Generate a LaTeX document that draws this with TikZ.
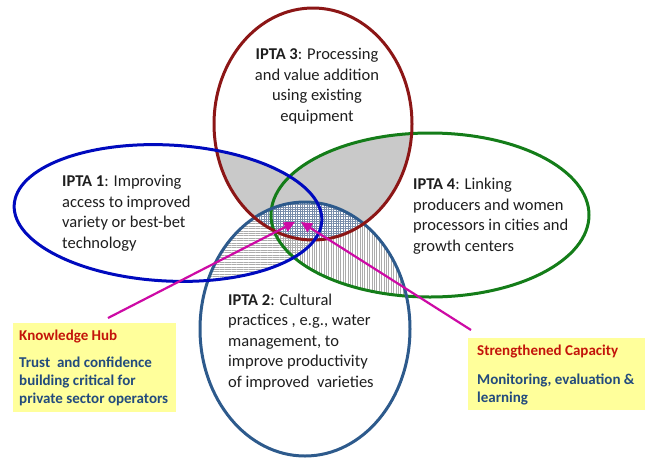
\documentclass[tikz,border=0pt]{standalone}
\usepackage{fontspec}
\setmainfont{Carlito}
\usetikzlibrary{arrows.meta,patterns.meta}

\definecolor{iptared}{RGB}{140,22,22}
\definecolor{iptablue}{RGB}{0,10,190}
\definecolor{iptagreen}{RGB}{20,125,25}
\definecolor{iptasteel}{RGB}{45,90,140}
\definecolor{linkmag}{RGB}{205,10,165}
\definecolor{notefill}{RGB}{255,255,155}
\definecolor{notered}{RGB}{195,20,10}
\definecolor{noteblue}{RGB}{35,75,125}
\definecolor{bodytext}{RGB}{30,30,30}
\definecolor{gridtint}{RGB}{120,140,170}

% the four outcome areas
\def\redE{(313,124) ellipse [x radius=99, y radius=116]}
\def\blueE{(168,213) ellipse [x radius=154, y radius=68]}
\def\greenE{(430,215) ellipse [x radius=159, y radius=82]}
\def\steelE{(305,329) ellipse [x radius=105, y radius=127]}
\tikzset{
  bluerot/.style={rotate around={-3:(168,213)}},
  ring/.style={line width=3pt},
  ipta/.style={inner sep=0pt, text=bodytext, font=\fontsize{16.5}{20.5}\selectfont},
  notebox/.style={fill=notefill, inner sep=0pt, anchor=north west},
  notetext/.style={inner sep=0pt, anchor=west, align=left, font=\bfseries\fontsize{15}{18}\selectfont},
  link/.style={linkmag, line width=2.2pt, -{Triangle[length=11pt,width=10pt]}},
  hatch/.style={pattern color=gray!65},
}

\begin{document}
\begin{tikzpicture}[x=1pt,y=-1pt]
\useasboundingbox (0,0) rectangle (646,459);

% horizontal hatching where IPTA 1 meets IPTA 2
\begin{scope}
  \clip[bluerot] \blueE;
  \clip \steelE;
  \fill[hatch, pattern={Lines[angle=0,distance=2.4pt,line width=0.7pt]}] (0,0) rectangle (646,459);
\end{scope}
% vertical hatching where IPTA 4 meets IPTA 2
\begin{scope}
  \clip \greenE;
  \clip \steelE;
  \fill[hatch, pattern={Lines[angle=90,distance=2.4pt,line width=0.7pt]}] (0,0) rectangle (646,459);
\end{scope}
% grey overlap of IPTA 3 with IPTA 1 and IPTA 4
\begin{scope}
  \clip \redE;
  \fill[gray!42,bluerot] \blueE;
  \fill[gray!42] \greenE;
\end{scope}
% common core: grid
\begin{scope}
  \clip \redE;
  \clip \steelE;
  \fill[white,bluerot] \blueE;
  \fill[white] \greenE;
  \fill[pattern={Hatch[angle=0,distance=2.4pt,line width=0.7pt]}, pattern color=gridtint,bluerot] \blueE;
  \fill[pattern={Hatch[angle=0,distance=2.4pt,line width=0.7pt]}, pattern color=gridtint] \greenE;
\end{scope}

% outlines
\draw[ring, iptagreen] \greenE;
\draw[ring, iptasteel] \steelE;
\draw[ring, iptared] \redE;
\draw[ring, iptablue, bluerot] \blueE;

% area labels
\node[ipta, align=center] (ipta3) at (317,86)
  {\textbf{IPTA 3}: Processing\\and value addition\\using existing\\equipment};
\node[ipta, align=left, anchor=west] (ipta1) at (62,213)
  {\textbf{IPTA 1}: Improving\\access to improved\\variety or best-bet\\technology};
\node[ipta, align=left, anchor=west] (ipta4) at (413,216)
  {\textbf{IPTA 4}: Linking\\producers and women\\processors in cities and\\growth centers};
\node[ipta, align=left, anchor=west] (ipta2) at (228,342)
  {\textbf{IPTA 2}: Cultural\\practices , e.g., water\\management, to\\improve productivity\\of improved\ \ varieties};

% note boxes
\node[notebox, minimum width=163pt, minimum height=89pt] (khbox) at (13,323) {};
\node[notetext] (khtext) at (19,368)
  {\textcolor{notered}{Knowledge Hub}\\[9pt]
   \textcolor{noteblue}{Trust\ \ and confidence}\\
   \textcolor{noteblue}{building critical for}\\
   \textcolor{noteblue}{private sector operators}};
\node[notebox, minimum width=177pt, minimum height=72pt] (scbox) at (468,338) {};
\node[notetext] (sctext) at (477,375)
  {\textcolor{notered}{Strengthened Capacity}\\[11pt]
   \textcolor{noteblue}{Monitoring, evaluation \&}\\
   \textcolor{noteblue}{learning}};

% links into the common core
\coordinate (khstart) at (108,318);
\coordinate (khend) at (295,222);
\coordinate (scstart) at (471,330);
\coordinate (scend) at (301,222);
\draw[link] (khstart) -- (khend);
\draw[link] (scstart) -- (scend);
\end{tikzpicture}
\end{document}
